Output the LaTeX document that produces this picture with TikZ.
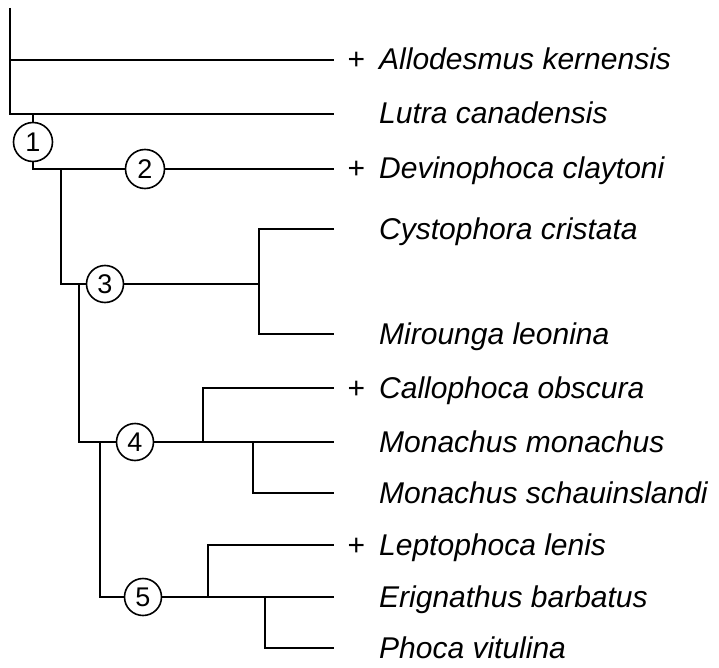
\documentclass[tikz,border=0pt]{standalone}
\usepackage{fontspec}
\setmainfont{Liberation Sans}
\usetikzlibrary{positioning}

\newcommand{\fossil}{\llap{\upshape +\hspace{14pt}}}

\begin{document}
\begin{tikzpicture}[
        x=1pt, y=-1pt,
        branch/.style={line width=1.9pt},
        taxon/.style={anchor=west, inner sep=0pt, text height=26pt, text depth=6pt, font=\fontsize{30}{36}\selectfont\itshape},
        clade/.style={draw, circle, line width=1.6pt, minimum size=37pt, inner sep=0pt, font=\fontsize{27}{32}\selectfont}
    ]
    \useasboundingbox (0,0) rectangle (719,668);

    % taxa
    \node[taxon] (allo) at (379,60) {\fossil Allodesmus kernensis};
    \node[taxon] (lutra) at (379,114) {Lutra canadensis};
    \node[taxon] (devin) at (379,169) {\fossil Devinophoca claytoni};
    \node[taxon] (cysto) at (379,229) {Cystophora cristata};
    \node[taxon] (mirou) at (379,334) {Mirounga leonina};
    \node[taxon] (callo) at (379,388) {\fossil Callophoca obscura};
    \node[taxon] (monmon) at (379,442) {Monachus monachus};
    \node[taxon] (monsch) at (379,493) {Monachus schauinslandi};
    \node[taxon] (lepto) at (379,545) {\fossil Leptophoca lenis};
    \node[taxon] (erign) at (379,597) {Erignathus barbatus};
    \node[taxon] (phoca) at (379,648) {Phoca vitulina};
    \foreach \t in {allo,lutra,devin,cysto,mirou,callo,monmon,monsch,lepto,erign,phoca}
        \coordinate (\t-end) at ([xshift=-45pt]\t.west);

    % numbered clades
    \node[clade, minimum size=39pt] (n1) at (33,142) {1};
    \node[clade, minimum size=39pt] (n2) at (145,169) {2};
    \node[clade] (n3) at (105,284) {3};
    \node[clade] (n4) at (135,442) {4};
    \node[clade] (n5) at (143,597) {5};

    % branch points
    \coordinate (root) at (10,8);
    \coordinate (j0) at (10,60);
    \coordinate (j1) at (33,114);
    \coordinate (j2) at (61,169);
    \coordinate (j3) at (79,284);
    \coordinate (j4) at (100,442);
    \coordinate (k3) at (259,284);
    \coordinate (k4a) at (203,442);
    \coordinate (k4b) at (253,442);
    \coordinate (k5a) at (208,597);
    \coordinate (k5b) at (265,597);

    \draw[branch] (root) |- (lutra-end);
    \draw[branch] (j0) -- (allo-end);
    \draw[branch] (j1) -- (n1);
    \draw[branch] (n1) |- (n2);
    \draw[branch] (n2) -- (devin-end);
    \draw[branch] (j2) |- (n3);
    \draw[branch] (n3) -- (k3);
    \draw[branch] (cysto-end) -| (k3) |- (mirou-end);
    \draw[branch] (j3) |- (n4);
    \draw[branch] (n4) -- (monmon-end);
    \draw[branch] (k4a) |- (callo-end);
    \draw[branch] (k4b) |- (monsch-end);
    \draw[branch] (j4) |- (n5);
    \draw[branch] (n5) -- (erign-end);
    \draw[branch] (k5a) |- (lepto-end);
    \draw[branch] (k5b) |- (phoca-end);
\end{tikzpicture}
\end{document}
